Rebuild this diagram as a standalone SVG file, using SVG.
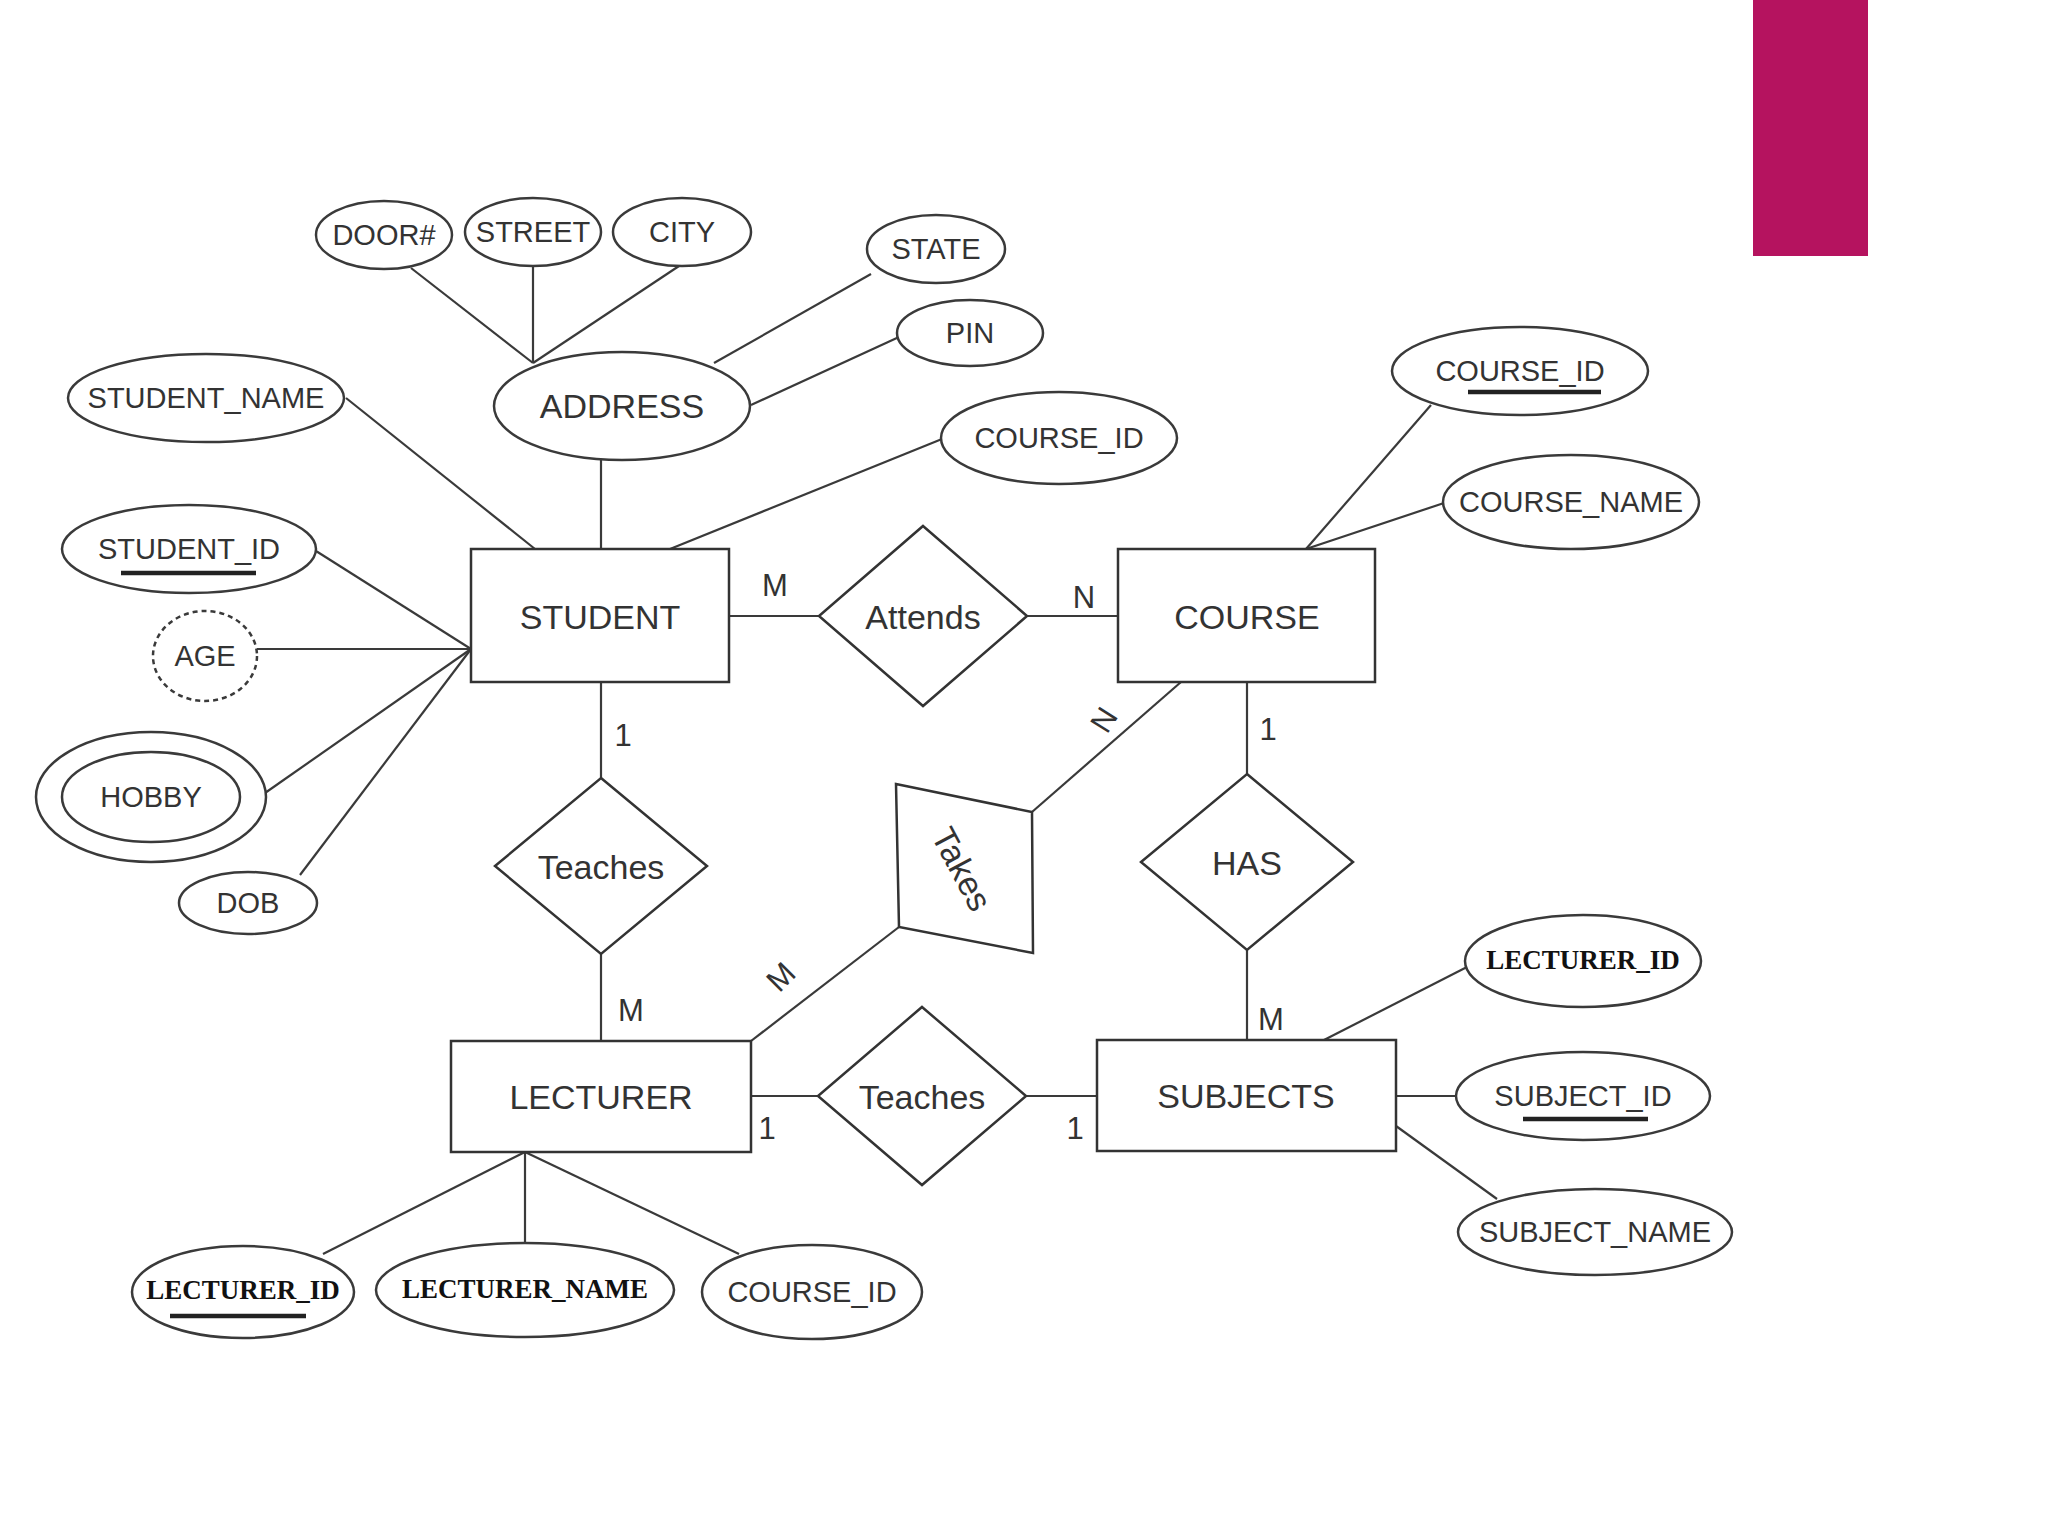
<svg xmlns="http://www.w3.org/2000/svg" width="2048" height="1536" viewBox="0 0 2048 1536">
<style>
.e{fill:#fff;stroke:#3a3a3a;stroke-width:2.5}
.r{fill:#fff;stroke:#333;stroke-width:2.5}
.c line,.c polyline{stroke:#3a3a3a;stroke-width:2.2;fill:none}
.t{font-family:"Liberation Sans",Arial,sans-serif;fill:#333;text-anchor:middle;dominant-baseline:central}
.a{font-size:29px}
.en{font-size:34px}
.b{font-family:"Liberation Serif","Times New Roman",serif;font-weight:bold;font-size:27px;fill:#111;text-anchor:middle;dominant-baseline:central}
.k{font-family:"Liberation Sans",Arial,sans-serif;font-size:31px;fill:#333;text-anchor:middle;dominant-baseline:central}
.u{stroke:#222;stroke-width:4.5}
</style>
<rect width="2048" height="1536" fill="#fff"/>
<rect x="1753" y="0" width="115" height="256" fill="#b5135f"/>
<g class="c">
<line x1="411" y1="268" x2="533" y2="363"/>
<line x1="533" y1="266" x2="533" y2="363"/>
<line x1="679" y1="266" x2="533" y2="363"/>
<line x1="871" y1="274" x2="714" y2="363"/>
<line x1="899" y1="337" x2="751" y2="405"/>
<line x1="601" y1="460" x2="601" y2="549"/>
<line x1="346" y1="398" x2="535" y2="549"/>
<line x1="942" y1="439" x2="670" y2="549"/>
<line x1="316" y1="551" x2="471" y2="649"/>
<line x1="257" y1="649" x2="471" y2="649"/>
<line x1="265" y1="793" x2="471" y2="649"/>
<line x1="300" y1="875" x2="471" y2="649"/>
<line x1="729" y1="616" x2="819" y2="616"/>
<line x1="1027" y1="616" x2="1118" y2="616"/>
<line x1="1431" y1="405" x2="1306" y2="549"/>
<line x1="1444" y1="503" x2="1306" y2="549"/>
<line x1="601" y1="682" x2="601" y2="778"/>
<line x1="601" y1="954" x2="601" y2="1041"/>
<line x1="1181" y1="682" x2="1032" y2="812"/>
<line x1="899" y1="927" x2="751" y2="1041"/>
<line x1="1247" y1="682" x2="1247" y2="774"/>
<line x1="1247" y1="950" x2="1247" y2="1040"/>
<line x1="751" y1="1096" x2="818" y2="1096"/>
<line x1="1026" y1="1096" x2="1097" y2="1096"/>
<line x1="1467" y1="967" x2="1324" y2="1040"/>
<line x1="1456" y1="1096" x2="1396" y2="1096"/>
<line x1="1497" y1="1199" x2="1396" y2="1126"/>
<line x1="525" y1="1152" x2="323" y2="1254"/>
<line x1="525" y1="1152" x2="525" y2="1243"/>
<line x1="525" y1="1152" x2="739" y2="1254"/>
</g>
<g id="door"><ellipse class="e" cx="384" cy="235" rx="68" ry="34"/><text class="t a" x="384" y="235">DOOR#</text></g>
<g id="street"><ellipse class="e" cx="533" cy="232" rx="68" ry="34"/><text class="t a" x="533" y="232">STREET</text></g>
<g id="city"><ellipse class="e" cx="682" cy="232" rx="69" ry="34"/><text class="t a" x="682" y="232">CITY</text></g>
<g id="state"><ellipse class="e" cx="936" cy="249" rx="69" ry="34"/><text class="t a" x="936" y="249">STATE</text></g>
<g id="pin"><ellipse class="e" cx="970" cy="333" rx="73" ry="33"/><text class="t a" x="970" y="333">PIN</text></g>
<g id="address"><ellipse class="e" cx="622" cy="406" rx="128" ry="54"/><text class="t en" x="622" y="406">ADDRESS</text></g>
<g id="student_name"><ellipse class="e" cx="206" cy="398" rx="138" ry="44"/><text class="t a" x="206" y="398">STUDENT_NAME</text></g>
<g id="student_course_id"><ellipse class="e" cx="1059" cy="438" rx="118" ry="46"/><text class="t a" x="1059" y="438">COURSE_ID</text></g>
<g id="course_id"><ellipse class="e" cx="1520" cy="371" rx="128" ry="44"/><text class="t a" x="1520" y="371">COURSE_ID</text><line class="u" x1="1468" y1="392" x2="1601" y2="392"/></g>
<g id="course_name"><ellipse class="e" cx="1571" cy="502" rx="128" ry="47"/><text class="t a" x="1571" y="502">COURSE_NAME</text></g>
<g id="student_id"><ellipse class="e" cx="189" cy="549" rx="127" ry="44"/><text class="t a" x="189" y="549">STUDENT_ID</text><line class="u" x1="121" y1="573" x2="256" y2="573"/></g>
<g id="age"><ellipse class="e" cx="205" cy="656" rx="52" ry="45" stroke-dasharray="5 4"/><text class="t a" x="205" y="656">AGE</text></g>
<g id="hobby"><ellipse class="e" cx="151" cy="797" rx="115" ry="65"/><ellipse class="e" cx="151" cy="797" rx="89" ry="45"/><text class="t a" x="151" y="797">HOBBY</text></g>
<g id="dob"><ellipse class="e" cx="248" cy="903" rx="69" ry="31"/><text class="t a" x="248" y="903">DOB</text></g>
<g id="student"><rect class="r" x="471" y="549" width="258" height="133"/><text class="t en" x="600" y="617">STUDENT</text></g>
<g id="attends"><polygon class="r" points="923,526 1027,616 923,706 819,616"/><text class="t en" x="923" y="617">Attends</text></g>
<g id="course"><rect class="r" x="1118" y="549" width="257" height="133"/><text class="t en" x="1247" y="617">COURSE</text></g>
<g id="teaches1"><polygon class="r" points="601,778 707,866 601,954 495,866"/><text class="t en" x="601" y="867">Teaches</text></g>
<g id="takes"><polygon class="r" points="896,784 1032,812 1033,953 899,927"/><text class="t en" transform="translate(962,869) rotate(62)">Takes</text></g>
<g id="has"><polygon class="r" points="1247,774 1353,862 1247,950 1141,862"/><text class="t en" x="1247" y="863">HAS</text></g>
<g id="lecturer"><rect class="r" x="451" y="1041" width="300" height="111"/><text class="t en" x="601" y="1097">LECTURER</text></g>
<g id="teaches2"><polygon class="r" points="922,1007 1026,1096 922,1185 818,1096"/><text class="t en" x="922" y="1097">Teaches</text></g>
<g id="subjects"><rect class="r" x="1097" y="1040" width="299" height="111"/><text class="t en" x="1246" y="1096">SUBJECTS</text></g>
<g id="lecturer_id_r"><ellipse class="e" cx="1583" cy="961" rx="118" ry="46"/><text class="b" x="1583" y="960">LECTURER_ID</text></g>
<g id="subject_id"><ellipse class="e" cx="1583" cy="1096" rx="127" ry="44"/><text class="t a" x="1583" y="1096">SUBJECT_ID</text><line class="u" x1="1523" y1="1119" x2="1648" y2="1119"/></g>
<g id="subject_name"><ellipse class="e" cx="1595" cy="1232" rx="137" ry="43"/><text class="t a" x="1595" y="1232">SUBJECT_NAME</text></g>
<g id="lecturer_id_b"><ellipse class="e" cx="243" cy="1292" rx="111" ry="46"/><text class="b" x="243" y="1290">LECTURER_ID</text><line class="u" x1="170" y1="1316" x2="306" y2="1316"/></g>
<g id="lecturer_name"><ellipse class="e" cx="525" cy="1290" rx="149" ry="47"/><text class="b" x="525" y="1289">LECTURER_NAME</text></g>
<g id="lecturer_course_id"><ellipse class="e" cx="812" cy="1292" rx="110" ry="47"/><text class="t a" x="812" y="1292">COURSE_ID</text></g>
<g id="labels">
<text class="k" x="775" y="585">M</text>
<text class="k" x="1084" y="597">N</text>
<text class="k" x="623" y="735">1</text>
<text class="k" transform="translate(1104,720) rotate(-58)">N</text>
<text class="k" x="1268" y="729">1</text>
<text class="k" x="631" y="1010">M</text>
<text class="k" transform="translate(781,977) rotate(-45)">M</text>
<text class="k" x="1271" y="1019">M</text>
<text class="k" x="767" y="1128">1</text>
<text class="k" x="1075" y="1128">1</text>
</g>
</svg>
